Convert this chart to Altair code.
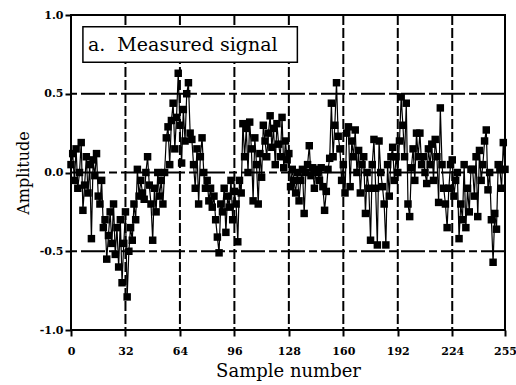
import altair as alt
import pandas as pd

values = [
    0.05, 0.12, -0.05, 0.15, -0.1, 0.0, 0.19, -0.24, -0.08, 0.1, -0.13, 0.05, -0.42, 0.08, -0.02, 0.12,
    -0.15, -0.2, -0.05, -0.35, -0.3, -0.55, -0.4, -0.25, -0.45, -0.2, -0.52, -0.35, -0.6, -0.3, -0.70, -0.45,
    -0.25, -0.79, -0.5, -0.35, -0.43, -0.2, -0.3, 0.02, -0.15, -0.05, -0.13, -0.17, 0.0, 0.1, -0.08, -0.2,
    -0.43, -0.1, -0.25, 0.0, -0.15, -0.05, -0.2, 0.0, 0.22, 0.29, 0.05, 0.33, 0.44, 0.15, 0.35, 0.63,
    0.3, 0.06, 0.4, 0.2, 0.5, 0.57, 0.25, 0.21, 0.05, -0.1, 0.15, -0.2, 0.1, 0.22, 0.0, -0.1,
    -0.05, -0.18, -0.1, -0.22, -0.15, -0.3, -0.41, -0.51, -0.2, -0.25, -0.1, -0.38, -0.15, -0.22, -0.05, -0.3,
    -0.12, -0.2, -0.44, -0.05, -0.13, 0.31, 0.1, 0.28, 0.0, 0.32, 0.15, -0.18, 0.22, 0.05, -0.2, 0.12,
    -0.03, 0.3, 0.2, 0.1, 0.25, 0.36, 0.16, 0.28, 0.05, 0.31, 0.18, 0.1, 0.35, 0.03, 0.2, 0.08,
    0.12, -0.09, 0.02, -0.05, -0.13, 0.0, -0.18, -0.05, 0.02, -0.26, 0.0, 0.05, 0.17, -0.02, 0.03, -0.1,
    0.02, 0.0, -0.05, 0.03, -0.09, -0.24, -0.12, 0.02, 0.09, 0.44, 0.1, 0.3, 0.57, 0.23, 0.15, -0.05,
    0.05, -0.13, 0.25, 0.29, -0.09, 0.2, 0.1, 0.27, 0.0, 0.14, -0.13, 0.05, 0.1, -0.26, 0.0, -0.1,
    -0.43, 0.05, 0.21, -0.1, -0.46, 0.2, 0.0, -0.09, -0.2, -0.46, 0.05, -0.15, 0.1, 0.16, -0.05, 0.1,
    0.0, 0.2, 0.48, 0.3, 0.1, 0.44, -0.2, -0.28, 0.03, 0.15, -0.05, 0.25, 0.1, 0.25, 0.05, 0.1,
    0.0, -0.07, 0.15, 0.05, 0.18, -0.05, 0.21, 0.1, -0.19, 0.41, 0.05, -0.1, -0.2, -0.35, -0.1, 0.05,
    0.08, -0.15, -0.05, 0.0, -0.42, -0.2, -0.3, 0.05, -0.35, -0.1, -0.25, 0.02, 0.02, -0.15, 0.1, -0.28,
    0.14, -0.05, 0.05, 0.2, 0.27, -0.11, 0.0, -0.3, -0.57, -0.26, -0.36, 0.05, 0.02, -0.1, 0.19, 0.02,
]
samples = list(range(len(values)))

x_ticks = [0, 32, 64, 96, 128, 160, 192, 224, 255]
y_ticks = [-1.0, -0.5, 0.0, 0.5, 1.0]
v_grid = [32, 64, 96, 128, 160, 192, 224]
h_grid = [-0.5, 0.0, 0.5]
label_text = ["a.\u00a0 Measured signal"]

FONT = "DejaVu Serif"

df = pd.DataFrame({"n": samples, "amp": values})
xs = alt.Scale(domain=[0, 255], nice=False, zero=False)
ys = alt.Scale(domain=[-1, 1], nice=False, zero=False)

xaxis = alt.Axis(values=x_ticks, title="Sample number", grid=False, tickSize=6,
                 tickWidth=2, tickColor="black", domain=False, labelFontWeight="bold",
                 labelFont=FONT, labelFontSize=11, labelColor="black", labelPadding=9,
                 titleFont=FONT, titleFontSize=18, titleFontWeight="normal",
                 titleColor="black", titlePadding=6, labelFlush=False)
yaxis = alt.Axis(values=y_ticks, title="Amplitude", grid=False, tickSize=6,
                 labelExpr="replace(format(datum.value, '.1f'), '\u2212', '-')",
                 tickWidth=2, tickColor="black", domain=False, labelFontWeight="bold",
                 labelFont=FONT, labelFontSize=11, labelColor="black", labelPadding=2,
                 titleFont=FONT, titleFontSize=16, titleFontWeight="normal",
                 titleColor="black", titlePadding=8, labelFlush=False)

vg = alt.Chart(pd.DataFrame({"g": v_grid})).mark_rule(
    color="black", strokeWidth=2, strokeDash=[10, 3]
).encode(x=alt.X("g:Q", scale=xs, axis=xaxis))

hg = alt.Chart(pd.DataFrame({"g": h_grid})).mark_rule(
    color="black", strokeWidth=2, strokeDash=[24, 4, 8, 4]
).encode(y=alt.Y("g:Q", scale=ys, axis=yaxis))

line = alt.Chart(df).mark_line(color="black", strokeWidth=1.2).encode(
    x=alt.X("n:Q", scale=xs, axis=xaxis),
    y=alt.Y("amp:Q", scale=ys, axis=yaxis),
)
pts = alt.Chart(df).mark_point(shape="square", filled=True, color="black",
                               size=56, opacity=1).encode(
    x=alt.X("n:Q", scale=xs, axis=xaxis), y=alt.Y("amp:Q", scale=ys, axis=yaxis))

box_df = pd.DataFrame({"x1": [7], "x2": [133], "y1": [0.70], "y2": [0.925], "t": label_text})
box = alt.Chart(box_df).mark_rect(fill="white", stroke="black", strokeWidth=1.5).encode(
    x=alt.X("x1:Q", scale=xs, axis=xaxis), x2="x2:Q",
    y=alt.Y("y1:Q", scale=ys, axis=yaxis), y2="y2:Q")
txt = alt.Chart(box_df).mark_text(font=FONT, fontSize=19, color="black", align="left",
                                  baseline="middle", dx=5).encode(
    x=alt.X("x1:Q", scale=xs, axis=xaxis), y=alt.Y("ym:Q", scale=ys, axis=yaxis), text="t:N"
).transform_calculate(ym="(datum.y1 + datum.y2) / 2")

chart = alt.layer(vg, hg, line, pts, box, txt).properties(
    width=434, height=315,
    autosize=alt.AutoSizeParams(type="none"),
    padding={"left": 71, "top": 15, "right": 11, "bottom": 55},
    background="white",
).configure_view(stroke="black", strokeWidth=2)

chart.save("out.html", embed_options={"renderer": "svg", "actions": False})
